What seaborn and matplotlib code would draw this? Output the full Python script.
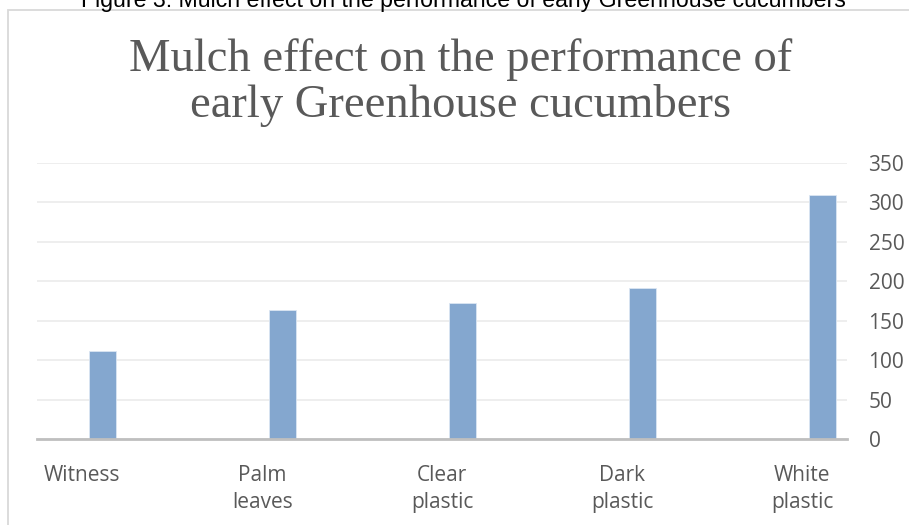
import matplotlib
matplotlib.use("Agg")
import matplotlib.pyplot as plt
from matplotlib.patches import Rectangle
import seaborn as sns
import pandas as pd

# Data
categories = ["Witness", "Palm\nleaves", "Clear\nplastic", "Dark\nplastic", "White\nplastic"]
yield_values = [112, 164, 172, 192, 309]
y_ticks = [0, 50, 100, 150, 200, 250, 300, 350]

caption = "Figure 3: Mulch effect on the performance of early Greenhouse cucumbers"
title_lines = ["Mulch effect on the performance of", "early Greenhouse cucumbers"]

df = pd.DataFrame({"treatment": categories, "value": yield_values})

sns.set_theme(style="white")
plt.rcParams["font.family"] = ["Open Sans", "DejaVu Sans"]

W, H = 909, 525
fig = plt.figure(figsize=(W / 100, H / 100), dpi=100)
fig.patch.set_facecolor("white")

# plot area in pixel terms
left_px, right_px = 37, 847
top_px, bottom_px = 162.7, 439.3
ax = fig.add_axes([left_px / W, (H - bottom_px) / H,
                   (right_px - left_px) / W, (bottom_px - top_px) / H])

bar_color = "#84A7CF"
sns.barplot(data=df, x="treatment", y="value", ax=ax, color=bar_color,
            width=0.15, saturation=1, edgecolor="#dbe6f2", linewidth=0.6)

ax.set_ylim(0, 350)
ax.set_xlim(-0.365, 4.135)
ax.set_xlabel("")
ax.set_ylabel("")

# gridlines
ax.set_yticks(y_ticks)
ax.yaxis.grid(True, color="#eeeeee", linewidth=1.4)
ax.set_axisbelow(True)

# right-hand value axis
ax.yaxis.tick_right()
ax.tick_params(axis="y", length=0, pad=15.5, labelsize=15, labelcolor="#595959")
for lbl in ax.get_yticklabels():
    lbl.set_horizontalalignment("left")

# category labels sit slightly left of the bars
label_offset = -0.114
ax.set_xticks([i + label_offset for i in range(len(categories))])
ax.set_xticklabels(categories, linespacing=1.38)
ax.tick_params(axis="x", length=0, pad=18.5, labelsize=15, labelcolor="#595959")

for side in ["left", "right", "top"]:
    ax.spines[side].set_visible(False)
ax.spines["bottom"].set_color("#bfbfbf")
ax.spines["bottom"].set_linewidth(2.0)

# chart frame
fig.patches.append(Rectangle((8 / W, -0.2), 2.0, (H - 10) / H + 0.2,
                             transform=fig.transFigure, fill=False,
                             edgecolor="#d9d9d9", linewidth=1.3))

# titles
fig.text(461 / W, (H - 71) / H, title_lines[0], ha="center", va="baseline",
         fontsize=33.6, color="#595959", family=["Liberation Serif"])
fig.text(461 / W, (H - 117) / H, title_lines[1], ha="center", va="baseline",
         fontsize=33.6, color="#595959", family=["Liberation Serif"])
fig.text(463 / W, (H - 7.5) / H, caption, ha="center", va="baseline",
         fontsize=16.7, color="black", family=["Liberation Sans"])

fig.savefig("out.png", dpi=100, facecolor="white")
